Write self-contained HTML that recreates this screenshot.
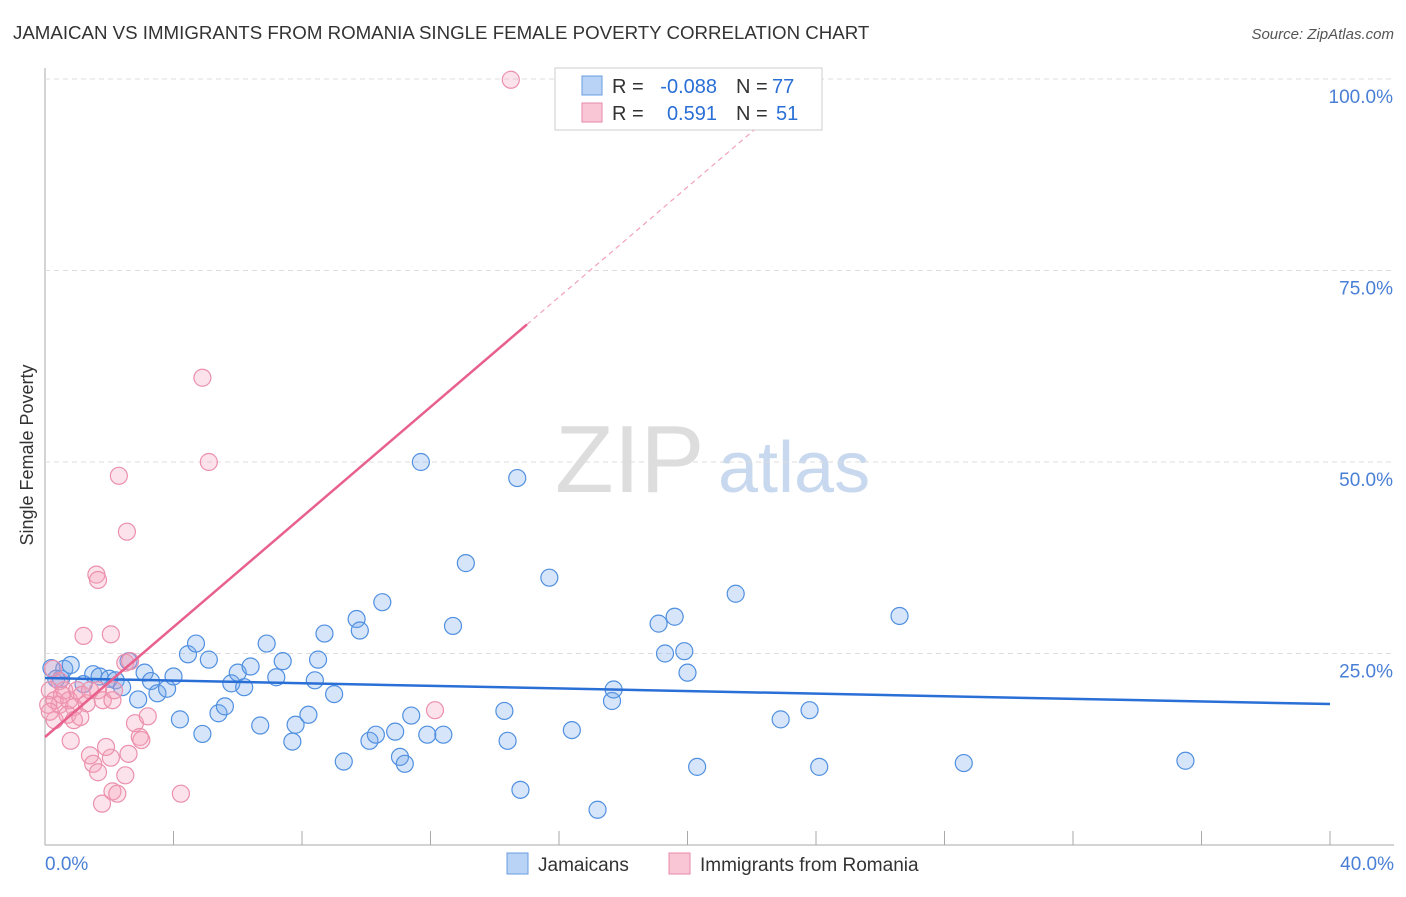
<!DOCTYPE html>
<html><head><meta charset="utf-8"><style>
body{margin:0;background:#fff;font-family:"Liberation Sans",sans-serif;}
svg text{font-family:"Liberation Sans",sans-serif;}
</style></head><body>
<svg id="c" width="1406" height="892" xmlns="http://www.w3.org/2000/svg">
<text x="13" y="39" font-size="18.7" fill="#333">JAMAICAN VS IMMIGRANTS FROM ROMANIA SINGLE FEMALE POVERTY CORRELATION CHART</text>
<text x="1394" y="39" font-size="15" fill="#555" font-style="italic" text-anchor="end">Source: ZipAtlas.com</text>
<text x="33" y="455" font-size="18" fill="#333" transform="rotate(-90 33 455)" text-anchor="middle">Single Female Poverty</text>
<text x="555" y="492" font-size="96" fill="#ddd" font-family="Liberation Serif">ZIP</text>
<text x="718" y="492" font-size="72" fill="#c8d8ee">atlas</text>
<g id="grid"></g><g id="pts"></g><g id="lines"></g>
<g>
<rect x="555" y="68" width="267" height="62" fill="#fff" stroke="#ccc"/>
<rect x="582" y="76" width="20" height="19" fill="#b8d3f5" stroke="#6a9de0"/>
<rect x="582" y="103" width="20" height="19" fill="#f9c6d6" stroke="#e88aa8"/>
<text x="612" y="93" font-size="20" fill="#333">R =</text>
<text x="717" y="93" font-size="20" fill="#2a6fd6" text-anchor="end">-0.088</text>
<text x="736" y="93" font-size="20" fill="#333">N =</text>
<text x="772" y="93" font-size="20" fill="#2a6fd6">77</text>
<text x="612" y="120" font-size="20" fill="#333">R =</text>
<text x="717" y="120" font-size="20" fill="#2a6fd6" text-anchor="end">0.591</text>
<text x="736" y="120" font-size="20" fill="#333">N =</text>
<text x="776" y="120" font-size="20" fill="#2a6fd6">51</text>
</g>
<g>
<rect x="507" y="853" width="21" height="21" fill="#b8d3f5" stroke="#6a9de0"/>
<text x="538" y="871" font-size="19" fill="#333">Jamaicans</text>
<rect x="669" y="853" width="21" height="21" fill="#f9c6d6" stroke="#e88aa8"/>
<text x="700" y="871" font-size="19" fill="#333">Immigrants from Romania</text>
</g>
</svg>
<script>
const xTicks=[0,4,8,12,16,20,24,28,32,36,40];
const yTicks=[25,50,75,100];
const jamX=[0.2,0.5,0.6,0.8,1.2,1.5,1.7,2.0,2.2,2.4,2.6,2.9,3.1,3.3,3.5,3.8,4.0,4.2,4.45,4.7,4.9,5.1,5.4,5.6,5.8,6.0,6.2,6.4,6.7,6.9,7.2,7.4,7.7,7.8,8.2,8.4,8.5,8.7,9.0,9.3,9.7,9.8,10.1,10.3,10.5,10.9,11.05,11.2,11.4,11.7,11.9,12.4,12.7,13.1,14.3,14.4,14.7,14.8,15.7,16.4,17.2,17.65,17.7,19.1,19.3,19.6,19.9,20.0,20.3,21.5,22.9,23.8,24.1,26.6,28.6,35.5,0.35];
const jamY=[23.1,21.7,23.0,23.5,21.0,22.3,22.0,21.7,21.5,20.6,24.0,19.0,22.5,21.4,19.8,20.4,22.0,16.4,24.9,26.3,14.5,24.2,17.2,18.1,21.1,22.5,20.6,23.3,15.6,26.3,21.9,24.0,13.5,15.7,17.0,21.5,24.2,27.6,19.7,10.9,29.5,28.0,13.6,14.4,31.7,14.8,11.5,10.6,16.9,50.0,14.4,14.4,28.6,36.8,17.5,13.6,47.9,7.2,34.9,15.0,4.6,18.8,20.3,28.9,25.0,29.8,25.3,22.5,10.2,32.8,16.4,17.6,10.2,29.9,10.7,11.0,21.7];
const romX=[14.5,4.9,5.1,2.3,2.55,1.6,1.65,1.2,2.05,2.5,2.65,0.25,0.15,0.3,0.45,0.6,0.75,0.9,1.0,1.15,1.3,1.4,1.65,1.8,2.1,2.15,0.3,0.7,0.9,2.8,3.2,2.95,3.0,0.8,1.4,1.5,1.65,2.05,1.9,2.6,2.5,2.1,2.25,1.775,4.23,12.14,0.45,0.1,0.15,1.1,0.53];
const romY=[99.9,61.0,50.0,48.2,40.9,35.3,34.6,27.3,27.5,23.8,24.0,23.0,20.2,18.9,18.3,20.2,18.9,18.0,20.2,19.6,18.5,20.2,20.2,18.9,18.9,20.2,16.3,17.0,16.3,15.9,16.8,14.1,13.7,13.6,11.7,10.6,9.5,11.4,12.8,11.9,9.1,7.0,6.7,5.4,6.7,17.6,21.4,18.3,17.4,16.7,19.6];
const jamFit=[21.8,18.4];
const romFit=[14.1,3.59];
const NS='http://www.w3.org/2000/svg';
const X=v=>45+v*32.125, Y=v=>845-v*7.66;
function mk(t,a,p){const e=document.createElementNS(NS,t);for(const k in a)e.setAttribute(k,a[k]);document.getElementById(p).appendChild(e);return e;}
mk('line',{x1:45,y1:68,x2:45,y2:845,stroke:'#aaa'},'grid');
mk('line',{x1:45,y1:845,x2:1394,y2:845,stroke:'#aaa'},'grid');
xTicks.forEach(t=>{const l=mk('line',{x1:X(t),y1:831,x2:X(t),y2:845,stroke:'#aaa'},'grid');

});
[[0,'0.0%',45,'start'],[40,'40.0%',1394,'end']].forEach(a=>{const e=mk('text',{x:a[2],y:870,'font-size':19,fill:'#4a7fd6','text-anchor':a[3]},'grid');e.textContent=a[1];

});
yTicks.forEach(t=>{const l=mk('line',{x1:45,y1:Y(t),x2:1394,y2:Y(t),stroke:'#ddd','stroke-dasharray':'5,4'},'grid');


const e=mk('text',{x:1393,y:Y(t)+24,'font-size':19,fill:'#4a7fd6','text-anchor':'end'},'grid');e.textContent=t.toFixed(1)+'%';

});
jamX.forEach((v,i)=>{const c=mk('circle',{cx:X(v),cy:Y(jamY[i]),r:8.5,fill:'rgba(120,170,235,0.3)',stroke:'#5090e0','stroke-width':1.2},'pts');

});
romX.forEach((v,i)=>{const c=mk('circle',{cx:X(v),cy:Y(romY[i]),r:8.5,fill:'rgba(245,160,185,0.3)',stroke:'#eb90ad','stroke-width':1.2},'pts');

});
let l=mk('line',{x1:X(0),y1:Y(jamFit[0]),x2:X(40),y2:Y(jamFit[1]),stroke:'#2a6fd6','stroke-width':2.5},'lines');


const xs=15, xe=(100-romFit[0])/romFit[1];
l=mk('line',{x1:X(0),y1:Y(romFit[0]),x2:X(xs),y2:Y(romFit[0]+romFit[1]*xs),stroke:'#e8608d','stroke-width':2.5},'lines');


l=mk('line',{x1:X(xs),y1:Y(romFit[0]+romFit[1]*xs),x2:X(xe),y2:Y(100),stroke:'#f0a0bb','stroke-width':1.2,'stroke-dasharray':'5,4'},'lines');


</script>
</body></html>
